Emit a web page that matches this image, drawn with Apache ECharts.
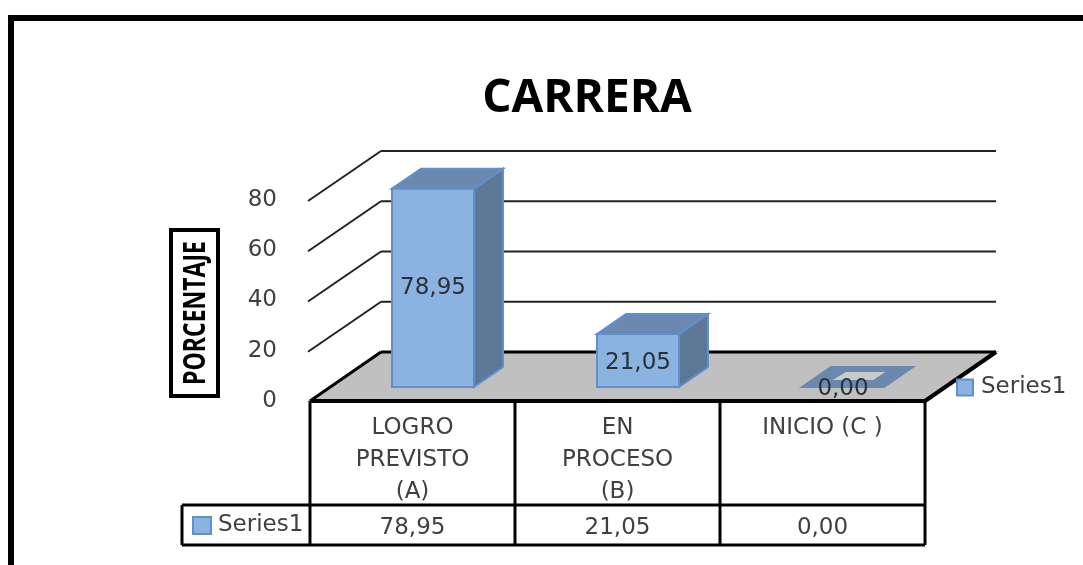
<!DOCTYPE html>
<html>
<head>
<meta charset="utf-8">
<style>html,body{margin:0;padding:0;background:#fff;}#main{width:1083px;height:565px;filter:blur(0.5px);}</style>
<script src="https://cdn.jsdelivr.net/npm/echarts@6/dist/echarts.min.js"></script>
</head>
<body>
<div id="main"></div>
<script>
var categories=['LOGRO\nPREVISTO\n(A)','EN\nPROCESO\n(B)','INICIO (C )'];
var values=[78.95,21.05,0];
var yTicks=[0,20,40,60,80];
var seriesName='Series1';
var yTitle='PORCENTAJE';

var textColor='#404040';
var font='DejaVu Sans';
// 3d look: how far the back wall and the bar sit from the front edge of the floor
var wallDx=71, wallDy=-49;
var barShiftX=20.5, barShiftY=-14;
var barDepthX=29, barDepthY=-20;
var barWidth=82;

function fmt(v){return v.toFixed(2).replace('.',',');}

function line(x1,y1,x2,y2,w,color){
    return {type:'line',shape:{x1:x1,y1:y1,x2:x2,y2:y2},style:{stroke:color||'#222',lineWidth:w}};
}
function poly(points,fill,stroke){
    return {type:'polygon',shape:{points:points},style:{fill:fill,stroke:stroke||fill,lineWidth:2,lineJoin:'miter'}};
}

// gridlines on the walls + grey floor
function renderWalls(params,api){
    var cs=params.coordSys;
    var tick=api.value(0);
    var y=api.coord([0,tick])[1];
    var kids=[];
    if(tick===0){
        kids.push(poly([[cs.x,y],[cs.x+wallDx,y+wallDy],[cs.x+cs.width+wallDx,y+wallDy],[cs.x+cs.width,y]],'#c0c0c0','#c0c0c0'));
        kids.push(line(cs.x,y,cs.x+wallDx,y+wallDy,3,'#000'));
        kids.push(line(cs.x+wallDx,y+wallDy,cs.x+cs.width+wallDx,y+wallDy,3,'#000'));
        kids.push(line(cs.x+cs.width,y,cs.x+cs.width+wallDx,y+wallDy,4,'#000'));
    }else{
        kids.push(line(cs.x-2,y+1,cs.x+wallDx,y+wallDy,2));
        kids.push(line(cs.x+wallDx,y+wallDy,cs.x+cs.width+wallDx,y+wallDy,2));
    }
    return {type:'group',children:kids};
}

// data table under the floor
function renderTable(params,api){
    var cs=params.coordSys;
    var i=api.value(0);
    var y0=cs.y+cs.height;
    var step=cs.width/categories.length;
    var x=cs.x+i*step;
    var row1=y0+104, row2=y0+144;
    var kids=[
        line(x,y0,x,row2,3,'#000'),
        line(x,y0,x+step,y0,4,'#000'),
        line(x,row1,x+step,row1,3,'#000'),
        line(x,row2,x+step,row2,3,'#000'),
        {type:'text',style:{text:fmt(api.value(1)),x:x+step/2,y:row1+23,align:'center',verticalAlign:'middle',fill:textColor,font:'23px "'+font+'"'}}
    ];
    if(i===categories.length-1){
        kids.push(line(x+step,y0,x+step,row2,3,'#000'));
    }
    if(i===0){
        kids.push(line(x-128,row1,x,row1,3,'#000'));
        kids.push(line(x-128,row2,x,row2,3,'#000'));
        kids.push(line(x-128,row1,x-128,row2,3,'#000'));
    }
    return {type:'group',children:kids};
}

function renderBar(params,api){
    var i=api.value(0), v=api.value(1);
    var base=api.coord([i,0]), top=api.coord([i,v]);
    var cx=base[0]+barShiftX;
    var x1=cx-barWidth/2, x2=cx+barWidth/2;
    var yb=base[1]+barShiftY, yt=top[1]+barShiftY;
    var border='#5f8fcc';
    var kids=[];
    if(v>0){
        kids.push(poly([[x2,yb],[x2+barDepthX,yb+barDepthY],[x2+barDepthX,yt+barDepthY],[x2,yt]],'#5d7796',border));
        kids.push(poly([[x1,yt],[x1+barDepthX,yt+barDepthY],[x2+barDepthX,yt+barDepthY],[x2,yt]],'#6b89ae',border));
        kids.push(poly([[x1,yb],[x1,yt],[x2,yt],[x2,yb]],'#8ab3e1',border));
    }else{
        // zero height bar is only a flat outline on the floor
        kids.push(poly([[x1,yb],[x1+barDepthX,yb+barDepthY],[x2+barDepthX,yb+barDepthY],[x2,yb]],'#6b89ae','#6b89ae'));
        kids.push(poly([[x1+34,yb-8],[x1+44,yb-14],[x2-2,yb-14],[x2-11,yb-8]],'#c9c9c9','#c9c9c9'));
    }
    kids.push({type:'text',z2:10,style:{text:fmt(v),x:cx,y:(yb+yt)/2+(v>30?0:2),align:'center',verticalAlign:'middle',fill:'#2b3038',font:'23px "'+font+'"'}});
    return {type:'group',children:kids};
}

var legendKey={color:'#8ab3e1',borderColor:'#5f8fcc',borderWidth:2};
var option={
    animation:false,
    backgroundColor:'#fff',
    title:{
        text:'CARRERA',
        left:582,top:71,textAlign:'center',
        textStyle:{fontFamily:'Open Sans',fontWeight:'bold',fontSize:46,color:'#000'}
    },
    legend:[
        {data:[seriesName],left:951,top:371,itemWidth:16,itemHeight:16,itemGap:0,icon:'rect',
            selectedMode:false,textStyle:{fontFamily:font,fontSize:23,color:textColor,padding:[0,0,0,3]}},
        {data:[seriesName],left:187,top:509,itemWidth:18,itemHeight:17,itemGap:0,icon:'rect',
            selectedMode:false,textStyle:{fontFamily:font,fontSize:23,color:textColor,padding:[0,0,0,2]}}
    ],
    grid:{left:310,top:200,width:615,height:201,containLabel:false},
    xAxis:{
        type:'category',data:categories,
        axisLine:{show:false},axisTick:{show:false},
        axisLabel:{color:textColor,fontFamily:font,fontSize:23,lineHeight:32,margin:11,verticalAlign:'top',interval:0}
    },
    yAxis:{
        type:'value',min:0,max:80,interval:20,
        axisLine:{show:false},axisTick:{show:false},splitLine:{show:false},
        axisLabel:{color:textColor,fontFamily:font,fontSize:23,margin:33,padding:[0,0,4,0]}
    },
    graphic:[
        {type:'polyline',shape:{points:[[11,570],[11,18],[1090,18]]},style:{stroke:'#000',lineWidth:6,fill:null}},
        {type:'rect',shape:{x:171,y:230,width:47,height:166},style:{fill:'#fff',stroke:'#000',lineWidth:4}},
        {type:'text',x:196,y:313,rotation:Math.PI/2,scaleY:1.3,
            style:{text:yTitle,align:'center',verticalAlign:'middle',fill:'#000',font:'bold 23px "Open Sans"'}}
    ],
    series:[
        {type:'custom',name:'walls',renderItem:renderWalls,silent:true,z:1,clip:false,
            encode:{y:0},data:yTicks.map(function(t){return [t];})},
        {type:'custom',name:'table',renderItem:renderTable,silent:true,z:2,clip:false,
            data:values.map(function(v,i){return [i,v];})},
        {type:'custom',name:seriesName,renderItem:renderBar,silent:true,z:3,clip:false,itemStyle:legendKey,
            data:values.map(function(v,i){return [i,v];})}
    ]
};

var myChart=echarts.init(document.getElementById('main'));
myChart.setOption(option);
</script>
</body>
</html>
